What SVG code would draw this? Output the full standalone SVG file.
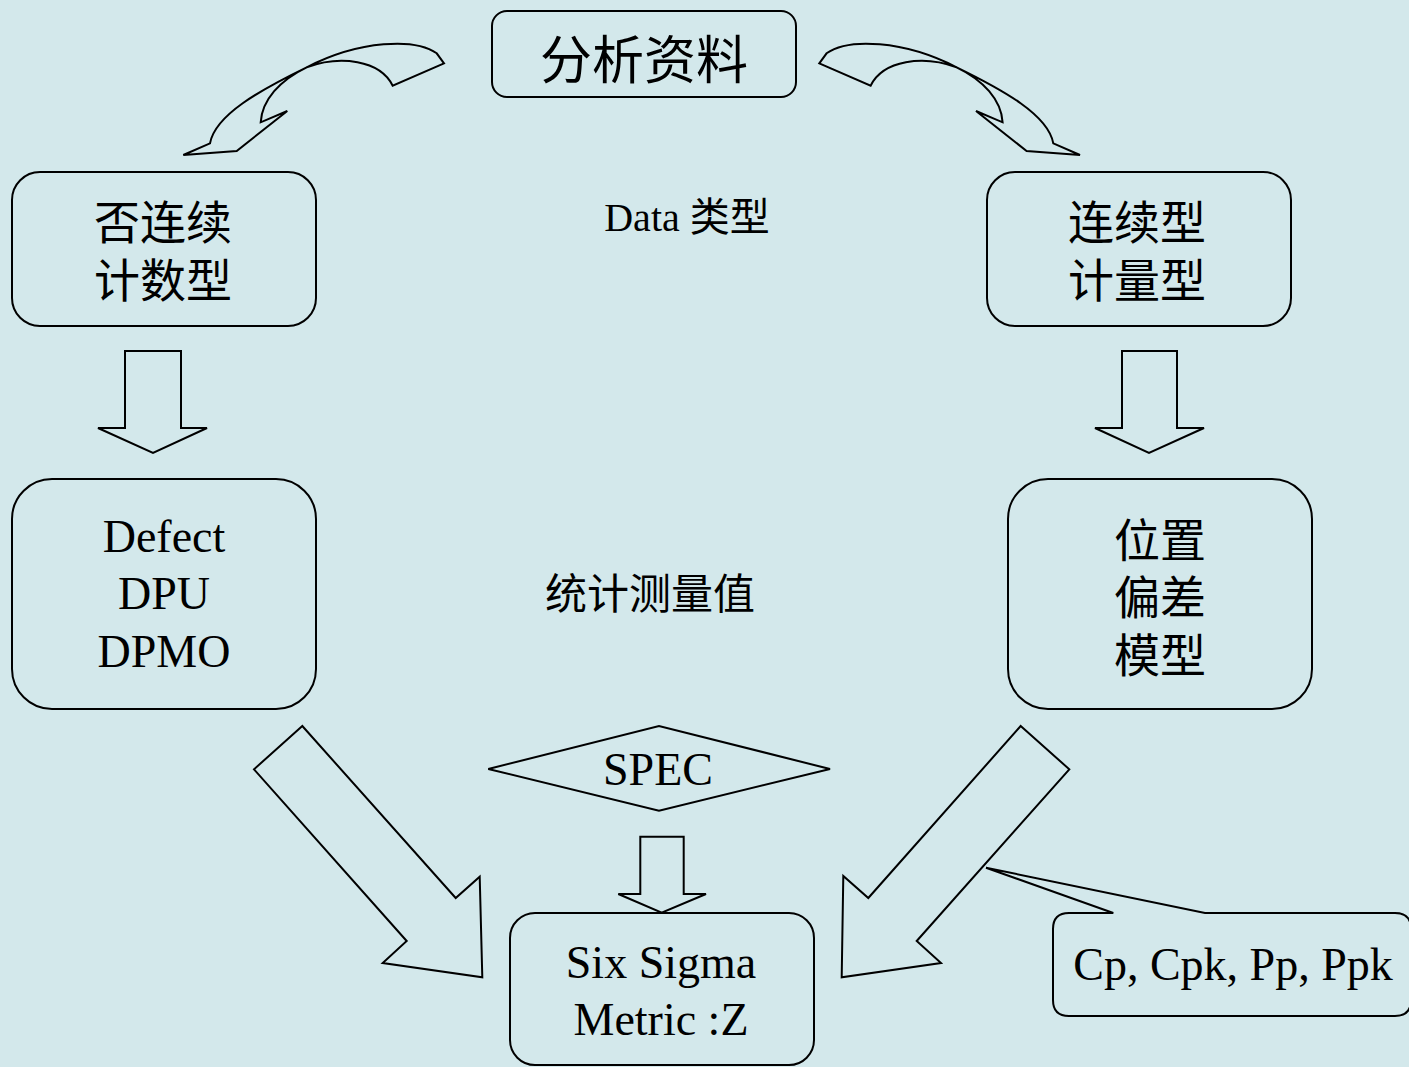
<svg xmlns="http://www.w3.org/2000/svg" width="1409" height="1067" viewBox="0 0 1409 1067">
<style>
.bg{fill:#d3e8eb}
.sh{fill:none;stroke:#000;stroke-width:2;stroke-linejoin:miter}
.t{font-family:"Liberation Serif","Noto Sans CJK SC",serif;fill:#000;text-anchor:middle}
</style>
<defs>
<path id="curveL" d="M444,63.3 L436.7,53.3 C415,38 360,40 306.7,67.3 C260,90 215,115 210,143.3 L183.3,155 L236.7,151 L287.3,111 L260.7,122.3 C262,100 280,80 306.7,67.3 C340,55 380,60 392.7,85.7 Z"/>
</defs>
<rect class="bg" x="0" y="0" width="1409" height="1067"/>
<g id="connectors">
<use href="#curveL" class="sh"/>
<use href="#curveL" class="sh" transform="matrix(-1 0 0 1 1263.3 0)"/>
<polygon class="sh" points="125,351 181,351 181,428 207,428 153,453 98,428 125,428"/>
<polygon class="sh" points="1122,351 1177,351 1177,428 1204,428 1149,453 1095,428 1122,428"/>
<polygon class="sh" points="302.3,726 254,769.3 406.7,941 382.7,963 482.3,977.3 479.7,876.7 455.7,898"/>
<polygon class="sh" points="1020.7,726 1069.3,769.3 916.7,941 941,963 841.7,977.3 843.3,876 868.3,898"/>
<polygon class="sh" points="640.3,836.7 683.7,836.7 683.7,894 706,894 661.7,912.7 618.3,894 640.3,894"/>
</g>
<g id="node-analysis">
<rect class="sh" x="492" y="11" width="304" height="86" rx="15"/>
<text class="t" x="644" y="79" font-size="52">分析资料</text>
</g>
<g id="label-datatype">
<text class="t" x="687" y="231" font-size="40">Data 类型</text>
</g>
<g id="node-discrete">
<rect class="sh" x="12" y="172" width="304" height="154" rx="28"/>
<text class="t" x="163" y="238.5" font-size="46">否连续</text>
<text class="t" x="163" y="297" font-size="46">计数型</text>
</g>
<g id="node-continuous">
<rect class="sh" x="987" y="172" width="304" height="154" rx="28"/>
<text class="t" x="1137" y="238.5" font-size="46">连续型</text>
<text class="t" x="1137" y="297" font-size="46">计量型</text>
</g>
<g id="node-defect">
<rect class="sh" x="12" y="479" width="304" height="230" rx="40"/>
<text class="t" x="164" y="551.7" font-size="46">Defect</text>
<text class="t" x="164" y="609.3" font-size="46">DPU</text>
<text class="t" x="164" y="667.3" font-size="46">DPMO</text>
</g>
<g id="label-stat">
<text class="t" x="650" y="609" font-size="42">统计测量值</text>
</g>
<g id="node-position">
<rect class="sh" x="1008" y="479" width="304" height="230" rx="40"/>
<text class="t" x="1160" y="557" font-size="46">位置</text>
<text class="t" x="1160" y="614" font-size="46">偏差</text>
<text class="t" x="1160" y="672" font-size="46">模型</text>
</g>
<g id="node-spec">
<polygon class="sh" points="488.3,769 659,726 830,769 659,810.7"/>
<text class="t" x="658" y="785" font-size="46">SPEC</text>
</g>
<g id="node-sixsigma">
<rect class="sh" x="510" y="913" width="304" height="152" rx="25"/>
<text class="t" x="661" y="978.3" font-size="46">Six Sigma</text>
<text class="t" x="661" y="1035" font-size="46">Metric :Z</text>
</g>
<g id="node-callout">
<path class="sh" d="M1069,913 L1113.3,913 L986,867.7 L1205,913 L1395,913 Q1411,913 1411,929 L1411,1000 Q1411,1016 1395,1016 L1069,1016 Q1053,1016 1053,1000 L1053,929 Q1053,913 1069,913 Z"/>
<text class="t" x="1233" y="980" font-size="46">Cp, Cpk, Pp, Ppk</text>
</g>
</svg>
